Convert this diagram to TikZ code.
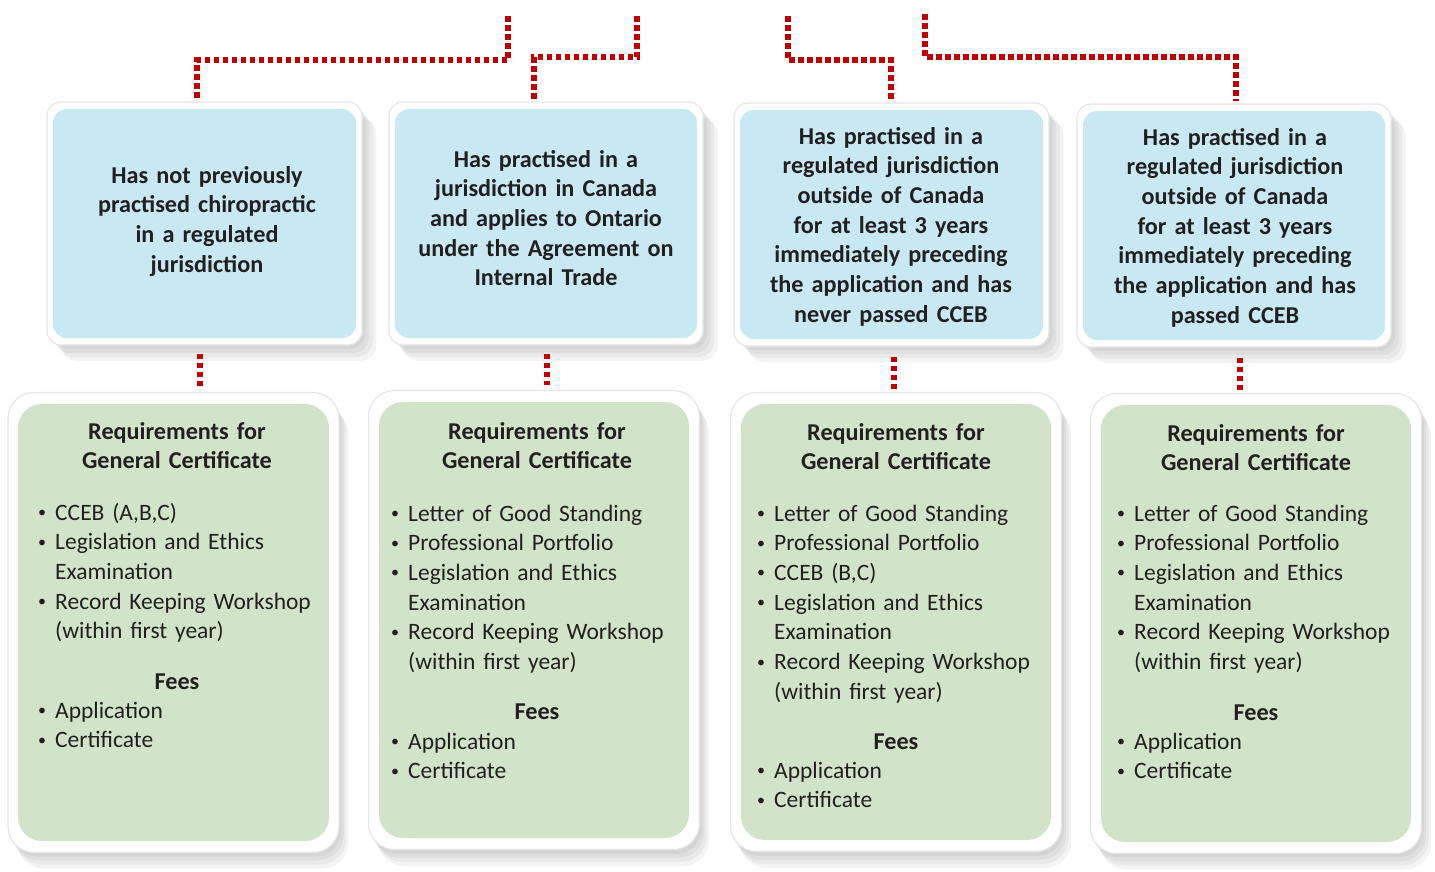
\documentclass[tikz,border=0pt]{standalone}
\usepackage{fontspec}
\setmainfont{Carlito}
\usetikzlibrary{calc}
\definecolor{bluefill}{HTML}{C8E8F2}
\definecolor{greenfill}{HTML}{D1E4C9}
\definecolor{dotred}{HTML}{C00000}
\definecolor{txt}{HTML}{231F20}
\definecolor{frameedge}{HTML}{E6E6E6}
\newcommand\blt{\makebox[17pt][l]{\fontsize{16}{16}\selectfont\raisebox{2.5pt}{•}}}
\newcommand\ind{\hspace*{17pt}}
\begin{document}
\begin{tikzpicture}[x=1pt,y=-1pt,
  frame/.style={rectangle, rounded corners=14pt, fill=white, draw=frameedge, line width=1.2pt, inner sep=0pt},
  gframe/.style={rectangle, rounded corners=26pt, fill=white, draw=frameedge, line width=1.2pt, inner sep=0pt},
  bluebox/.style={rectangle, rounded corners=14pt, fill=bluefill, inner sep=0pt, minimum width=303pt, minimum height=229pt},
  greenbox/.style={rectangle, rounded corners=24pt, fill=greenfill, inner sep=0pt, minimum width=311pt, minimum height=437pt},
  shad/.style={rectangle, fill=black, fill opacity=0.045, inner sep=0pt},
  bluetext/.style={anchor=base, align=center, text width=300pt, inner sep=0pt, text=txt, font=\fontsize{24.2}{29.7}\selectfont\bfseries},
  gtitle/.style={anchor=base, align=center, text width=300pt, inner sep=0pt, text=txt, font=\fontsize{24.2}{29.2}\selectfont\bfseries},
  items/.style={anchor=base west, align=left, text width=320pt, inner sep=0pt, text=txt, font=\fontsize{23.5}{29.7}\selectfont},
  dots/.style={draw=dotred, line width=5.5pt, dash pattern=on 5.5pt off 3.5pt}
]
\useasboundingbox (0,0) rectangle (1435,871);

% ---------- shadows ----------
\foreach \cx/\cy in {204.5/223.5, 546/223.5, 891.5/224.5, 1234/225.5} {
  \foreach \d in {4,8,12,16} {
    \node[shad, rounded corners=16pt, minimum width=315pt, minimum height=243pt] at (\cx+\d*0.9,\cy+\d) {};
  }
}
\foreach \cx/\cy in {173.5/622.5, 534/620, 896/622, 1256/623.5} {
  \foreach \d in {4,8,12,16} {
    \node[shad, rounded corners=26pt, minimum width=331pt, minimum height=460pt] at (\cx+\d*0.6,\cy+\d) {};
  }
}

% ---------- blue boxes ----------
\node[frame, minimum width=315pt, minimum height=243pt] (b1) at (204.5,223.5) {};
\node[bluebox] (b1in) at (204.5,223.5) {};
\node[frame, minimum width=314pt, minimum height=243pt] (b2) at (546,223.5) {};
\node[bluebox, minimum width=302pt] (b2in) at (546,223.5) {};
\node[frame, minimum width=315pt, minimum height=243pt] (b3) at (891.5,224.5) {};
\node[bluebox] (b3in) at (891.5,224.5) {};
\node[frame, minimum width=314pt, minimum height=243pt] (b4) at (1234,225.5) {};
\node[bluebox, minimum width=302pt] (b4in) at (1234,225.5) {};

\node[bluetext] (bt1) at (207,183) {Has not previously\\practised chiropractic\\in a regulated\\jurisdiction};
\node[bluetext] (bt2) at (546,167) {Has practised in a\\jurisdiction in Canada\\and applies to Ontario\\under the Agreement on\\Internal Trade};
\node[bluetext] (bt3) at (891,144) {Has practised in a\\regulated jurisdiction\\outside of Canada\\for at least 3 years\\immediately preceding\\the application and has\\never passed CCEB};
\node[bluetext] (bt4) at (1235,145) {Has practised in a\\regulated jurisdiction\\outside of Canada\\for at least 3 years\\immediately preceding\\the application and has\\passed CCEB};

% ---------- green boxes ----------
\node[gframe, minimum width=331pt, minimum height=460pt] (g1) at (173.5,622.5) {};
\node[greenbox] (g1in) at (173.5,622.5) {};
\node[gframe, minimum width=331pt, minimum height=459pt] (g2) at (534,620) {};
\node[greenbox, minimum width=310pt, minimum height=436pt] (g2in) at (534,620) {};
\node[gframe, minimum width=331pt, minimum height=459pt] (g3) at (896,622) {};
\node[greenbox, minimum width=310pt, minimum height=436pt] (g3in) at (896,622) {};
\node[gframe, minimum width=331pt, minimum height=460pt] (g4) at (1256,623.5) {};
\node[greenbox, minimum width=310pt] (g4in) at (1256,623.5) {};

% box 1
\node[gtitle] (g1t) at (177,439) {Requirements for\\General Certificate};
\node[items] (g1a) at (38,520) {\blt CCEB (A,B,C)\\\blt Legislation and Ethics\\\ind Examination\\\blt Record Keeping Workshop\\\ind (within first year)};
\node[gtitle] (g1f) at (177,689) {Fees};
\node[items] (g1b) at (38,718) {\blt Application\\\blt Certificate};

% box 2
\node[gtitle] (g2t) at (537,439) {Requirements for\\General Certificate};
\node[items] (g2a) at (391,521) {\blt Letter of Good Standing\\\blt Professional Portfolio\\\blt Legislation and Ethics\\\ind Examination\\\blt Record Keeping Workshop\\\ind (within first year)};
\node[gtitle] (g2f) at (537,719) {Fees};
\node[items] (g2b) at (391,749) {\blt Application\\\blt Certificate};

% box 3
\node[gtitle] (g3t) at (896,440) {Requirements for\\General Certificate};
\node[items] (g3a) at (757,521) {\blt Letter of Good Standing\\\blt Professional Portfolio\\\blt CCEB (B,C)\\\blt Legislation and Ethics\\\ind Examination\\\blt Record Keeping Workshop\\\ind (within first year)};
\node[gtitle] (g3f) at (896,749) {Fees};
\node[items] (g3b) at (757,778) {\blt Application\\\blt Certificate};

% box 4
\node[gtitle] (g4t) at (1256,441) {Requirements for\\General Certificate};
\node[items] (g4a) at (1117,521) {\blt Letter of Good Standing\\\blt Professional Portfolio\\\blt Legislation and Ethics\\\ind Examination\\\blt Record Keeping Workshop\\\ind (within first year)};
\node[gtitle] (g4f) at (1256,720) {Fees};
\node[items] (g4b) at (1117,749) {\blt Application\\\blt Certificate};

% ---------- connectors ----------
\coordinate (t1) at (508,16);  \coordinate (m1) at (197,60);
\coordinate (t2) at (637,16);  \coordinate (m2) at (534,57);
\coordinate (t3) at (788,16);  \coordinate (m3) at (891,60);
\coordinate (t4) at (925,14);  \coordinate (m4) at (1236,57);
\draw[dots, shorten >=2pt] (t1) |- (m1) -- (m1 |- b1.north);
\draw[dots, shorten >=2pt] (t2) |- (m2) -- (m2 |- b2.north);
\draw[dots, shorten >=2pt] (t3) |- (m3) -- (m3 |- b3.north);
\draw[dots, shorten >=2pt] (t4) |- (m4) -- (m4 |- b4.north);

\coordinate (k1) at (200,0);
\coordinate (k2) at (547,0);
\coordinate (k3) at (894,0);
\coordinate (k4) at (1240,0);
\draw[dots, shorten <=8pt, shorten >=5pt] (b1.south -| k1) -- (g1.north -| k1);
\draw[dots, shorten <=8pt, shorten >=5pt] (b2.south -| k2) -- (g2.north -| k2);
\draw[dots, shorten <=10pt, shorten >=3pt] (b3.south -| k3) -- (g3.north -| k3);
\draw[dots, shorten <=10pt, shorten >=2pt] (b4.south -| k4) -- (g4.north -| k4);
\end{tikzpicture}
\end{document}
